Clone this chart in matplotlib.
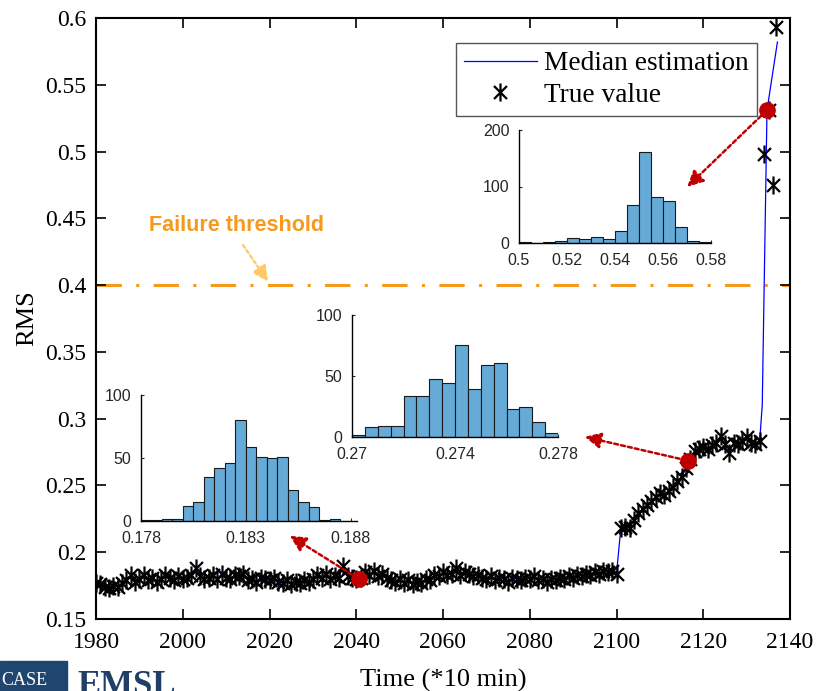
import matplotlib.pyplot as plt
from matplotlib.path import Path
from matplotlib.patches import Rectangle

# true RMS values, one per time step (1980 ... 2133), then the last few points
time = list(range(1980, 2134))
rms_true = [
    0.177, 0.176, 0.174, 0.173, 0.175, 0.174, 0.177, 0.179, 0.183, 0.178,
    0.180, 0.183, 0.179, 0.181, 0.178, 0.180, 0.183, 0.181, 0.179, 0.182,
    0.180, 0.181, 0.183, 0.188, 0.182, 0.180, 0.181, 0.183, 0.180, 0.184,
    0.181, 0.180, 0.183, 0.182, 0.184, 0.179, 0.180, 0.178, 0.181, 0.180,
    0.179, 0.181, 0.178, 0.177, 0.179, 0.176, 0.178, 0.177, 0.179, 0.178,
    0.180, 0.183, 0.181, 0.184, 0.180, 0.182, 0.181, 0.190, 0.182, 0.181,
    0.180, 0.181, 0.185, 0.183, 0.186, 0.182, 0.184, 0.181, 0.179, 0.178,
    0.180, 0.177, 0.179, 0.176, 0.178, 0.177, 0.180, 0.179, 0.183, 0.182,
    0.185, 0.183, 0.184, 0.188, 0.183, 0.185, 0.184, 0.182, 0.183, 0.181,
    0.180, 0.182, 0.179, 0.181, 0.180, 0.178, 0.181, 0.180, 0.179, 0.181,
    0.180, 0.182, 0.179, 0.180, 0.178, 0.180, 0.179, 0.181, 0.180, 0.182,
    0.181, 0.183, 0.182, 0.184, 0.183, 0.185, 0.184, 0.186, 0.185, 0.186,
    0.184, 0.218, 0.219, 0.218, 0.224, 0.229, 0.232, 0.235, 0.238, 0.241,
    0.244, 0.243, 0.246, 0.249, 0.253, 0.256, 0.263, 0.270, 0.276, 0.277,
    0.279, 0.277, 0.280, 0.282, 0.287, 0.281, 0.274, 0.282, 0.281, 0.283,
    0.286, 0.282, 0.281, 0.283,
]
tail_time = [2134.0, 2135.1, 2136.0, 2136.8]
tail_rms = [0.498, 0.531, 0.475, 0.593]

# median estimation follows the data, then shoots up at the end
median_tail_time = [2133.6, 2134.7, 2137.1]
median_tail = [0.310, 0.531, 0.582]

threshold = 0.4

# points where the distributions are shown
sel_time = [2040.6, 2116.4, 2134.7]
sel_rms = [0.180, 0.2686, 0.531]
arrow_tip_time = [2024.7, 2092.7, 2116.3]
arrow_tip_rms = [0.2123, 0.2864, 0.4735]

# histograms of the estimated RMS
h1_edges_start, h1_width = 0.178, 0.0005
h1_counts = [0.5, 0.5, 1.5, 1.5, 12, 15, 35, 42, 46, 80, 59, 51, 50, 51, 25, 15, 11, 0.5, 1.5]
h2_edges_start, h2_width = 0.27, 0.0005
h2_counts = [1.5, 8, 9, 9, 34, 34, 47.5, 44.5, 75.5, 39, 59, 61, 23, 25, 12, 3]
h3_edges_start, h3_width = 0.5, 0.005
h3_counts = [1, 0.5, 2, 3, 9, 7, 11, 7, 21, 67, 161, 81, 74, 29, 4, 2]

plt.rcParams["font.family"] = ["Liberation Serif", "DejaVu Serif"]

W, H = 816, 691
fig = plt.figure(figsize=(W / 100, H / 100), dpi=100)
ax = fig.add_axes([96 / W, 1 - 619 / H, 694 / W, 601 / H])

# asterisk marker: vertical line plus an X
star = Path(
    [(0, -1), (0, 1), (-0.72, -0.72), (0.72, 0.72), (-0.72, 0.72), (0.72, -0.72)],
    [Path.MOVETO, Path.LINETO, Path.MOVETO, Path.LINETO, Path.MOVETO, Path.LINETO],
)

ax.plot(time + median_tail_time, rms_true + median_tail, color="#0000FF", lw=0.9,
        label="Median estimation", zorder=2)
ax.plot(time + tail_time, rms_true + tail_rms, ls="none", marker=star, ms=13,
        mec="black", mew=1.6, label="True value", zorder=3)
ax.axhline(threshold, color="#F79A1B", lw=2.2, dashes=(8.3, 4.7, 1, 4.7), zorder=1)

ax.plot(sel_time, sel_rms, "o", color="#C00000", ms=11, zorder=5)
for x0, y0, x1, y1 in zip(sel_time, sel_rms, arrow_tip_time, arrow_tip_rms):
    ax.annotate("", xy=(x1, y1), xytext=(x0, y0),
                arrowprops=dict(arrowstyle="-|>", color="#C00000", lw=1.8,
                                ls=(0, (1.6, 1.2)), mutation_scale=24,
                                shrinkA=6, shrinkB=0), zorder=4)

ax.text(2012.3, 0.4443, "Failure threshold", color="#F79A1B", fontsize=15.5,
        fontweight="bold", family=["Liberation Sans", "DejaVu Sans"],
        ha="center", va="center")
ax.annotate("", xy=(2019.65, 0.4026), xytext=(2013.9, 0.430),
            arrowprops=dict(arrowstyle="-|>", color="#FFC866", lw=1.6,
                            ls=(0, (1.6, 1.2)), mutation_scale=24,
                            shrinkA=0, shrinkB=0))

ax.set_xlim(1980, 2140)
ax.set_ylim(0.15, 0.6)
ax.set_xticks(range(1980, 2141, 20))
ax.set_yticks([0.15, 0.2, 0.25, 0.3, 0.35, 0.4, 0.45, 0.5, 0.55, 0.6])
ax.set_yticklabels(["0.15", "0.2", "0.25", "0.3", "0.35", "0.4", "0.45", "0.5", "0.55", "0.6"])
ax.tick_params(direction="in", length=7, width=1.2, top=True, right=True,
               labelsize=17, colors="black")
ax.tick_params(axis="x", pad=9)
ax.tick_params(axis="y", pad=7)
for s in ax.spines.values():
    s.set_linewidth(1.5)
ax.set_xlabel("Time (*10 min)", fontsize=19, labelpad=12)
ax.set_ylabel("RMS", fontsize=19, labelpad=5)

leg = ax.legend(loc="upper left", bbox_to_anchor=(456 / W, 1 - 43 / H),
                bbox_transform=fig.transFigure, fontsize=19.7, frameon=True,
                fancybox=False, edgecolor="#555555", framealpha=1,
                handlelength=2.65, handletextpad=0.25, labelspacing=0.23,
                borderpad=0.3, borderaxespad=0)
leg.get_frame().set_linewidth(1.0)


def hist_inset(rect, start, width, counts, xlim, xticks, ylim, yticks):
    a = fig.add_axes([rect[0] / W, 1 - rect[1] / H, rect[2] / W, rect[3] / H])
    a.patch.set_alpha(0)
    lefts = [start + i * width for i in range(len(counts))]
    a.bar(lefts, counts, width=width, align="edge", color="#66AAD7",
          edgecolor="#1a1a1a", linewidth=0.8)
    a.set_xlim(*xlim)
    a.set_ylim(*ylim)
    a.set_xticks(xticks)
    a.set_xticklabels([f"{t:g}" for t in xticks])
    a.set_yticks(yticks)
    a.spines["top"].set_visible(False)
    a.spines["right"].set_visible(False)
    for s in ("left", "bottom"):
        a.spines[s].set_linewidth(1.0)
    a.tick_params(direction="in", length=2, labelsize=11.5, colors="#262626")
    a.tick_params(axis="x", pad=7.5)
    a.tick_params(axis="y", pad=7)
    for lab in a.get_xticklabels() + a.get_yticklabels():
        lab.set_family(["Liberation Sans", "DejaVu Sans"])
    return a


hist_inset((141, 521, 216, 126), h1_edges_start, h1_width, h1_counts,
           (0.178, 0.1883), [0.178, 0.183, 0.188], (0, 100), [0, 50, 100])
hist_inset((352, 437, 206, 122), h2_edges_start, h2_width, h2_counts,
           (0.27, 0.278), [0.27, 0.274, 0.278], (0, 100), [0, 50, 100])
hist_inset((519, 243, 192, 113), h3_edges_start, h3_width, h3_counts,
           (0.5, 0.58), [0.5, 0.52, 0.54, 0.56, 0.58], (0, 200), [0, 100, 200])

# logo strip cut by the lower edge
fig.patches.append(Rectangle((0, 0), 67 / W, 30 / H, transform=fig.transFigure,
                             color="#1F466E", zorder=0))
fig.text(1 / W, 6 / H, "CASE", color="white", fontsize=13, va="baseline")
fig.text(77 / W, -4 / H, "EMSL", color="#1F3F66", fontsize=25, fontweight="bold",
         va="baseline")

fig.savefig("out.png", dpi=100)
